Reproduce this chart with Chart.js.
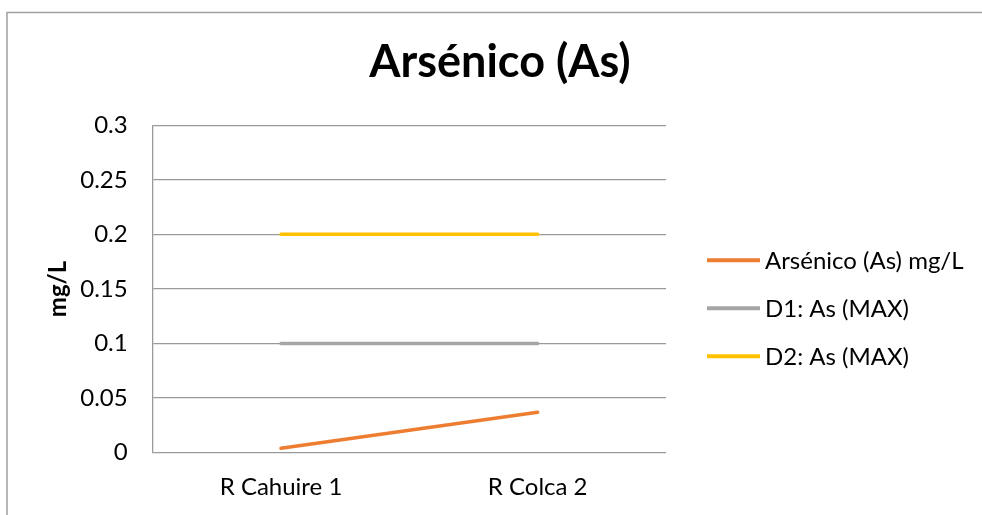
<!DOCTYPE html>
<html>
<head>
<meta charset="utf-8">
<title>Arsénico (As)</title>
<script src="https://cdn.jsdelivr.net/npm/chart.js@4/dist/chart.umd.min.js"></script>
<style>
  html, body { margin: 0; padding: 0; background: #ffffff; }
  #wrap { width: 982px; height: 515px; }
</style>
</head>
<body>
<div id="wrap"><canvas id="chart" width="982" height="515"></canvas></div>
<script>
// Sampling points
const categories = ['R Cahuire 1', 'R Colca 2'];

// Measured arsenic concentration (mg/L)
const arsenico = [0.004, 0.037];

// Regulatory limits
const d1Max = [0.1, 0.1];
const d2Max = [0.2, 0.2];

// Value-axis tick marks
const yTicks = [0, 0.05, 0.1, 0.15, 0.2, 0.25, 0.3];
const yTickLabels = ['0', '0.05', '0.1', '0.15', '0.2', '0.25', '0.3'];

const chartTitle = 'Arsénico (As)';
const seriesNames = ['Arsénico (As) mg/L', 'D1: As (MAX)', 'D2: As (MAX)'];
const seriesColors = ['#ED7D31', '#A5A5A5', '#FFC000'];

const FONT = 'Lato, "Open Sans", sans-serif';
const GRID = '#9a9a9a';

// Frame around the chart object
const framePlugin = {
  id: 'frame',
  beforeDraw(chart) {
    const ctx = chart.ctx;
    ctx.save();
    ctx.fillStyle = '#ffffff';
    ctx.fillRect(0, 0, chart.width, chart.height);
    ctx.strokeStyle = '#a0a0a0';
    ctx.lineWidth = 1.5;
    ctx.beginPath();
    ctx.moveTo(7, chart.height);
    ctx.lineTo(7, 12.5);
    ctx.lineTo(chart.width, 12.5);
    ctx.stroke();
    ctx.restore();
  }
};

// Title centred over the whole chart object (plot + legend)
const centredTitle = {
  id: 'centredTitle',
  afterDraw(chart) {
    const ctx = chart.ctx;
    ctx.save();
    ctx.font = 'bold 45px ' + FONT;
    ctx.fillStyle = '#000000';
    ctx.textAlign = 'center';
    ctx.textBaseline = 'middle';
    ctx.fillText(chartTitle, 500, 62);
    ctx.restore();
  }
};

// Legend on the right: short line sample followed by the series name
const sideLegend = {
  id: 'sideLegend',
  afterDraw(chart) {
    const ctx = chart.ctx;
    const area = chart.chartArea;
    const x0 = area.right + 41;
    const x1 = x0 + 53;
    ctx.save();
    ctx.font = '24px ' + FONT;
    ctx.textBaseline = 'middle';
    ctx.textAlign = 'left';
    chart.data.datasets.forEach((ds, i) => {
      const y = area.top + 135 + i * 48;
      ctx.strokeStyle = ds.borderColor;
      ctx.lineWidth = 4;
      ctx.beginPath();
      ctx.moveTo(x0, y);
      ctx.lineTo(x1, y);
      ctx.stroke();
      ctx.fillStyle = '#000000';
      ctx.fillText(ds.label, x1 + 5, y + 1);
    });
    ctx.restore();
  }
};

const datasets = [arsenico, d1Max, d2Max].map((values, i) => ({
  label: seriesNames[i],
  data: values,
  borderColor: seriesColors[i],
  backgroundColor: seriesColors[i],
  borderWidth: 3.5,
  pointRadius: 0,
  pointHoverRadius: 0,
  tension: 0,
  borderCapStyle: 'round'
}));

new Chart(document.getElementById('chart'), {
  type: 'line',
  data: { labels: categories, datasets },
  plugins: [framePlugin, centredTitle, sideLegend],
  options: {
    responsive: false,
    animation: false,
    layout: { padding: { top: 125.2, right: 316, bottom: 0, left: 0 } },
    plugins: {
      legend: { display: false },
      tooltip: { enabled: false },
      title: { display: false }
    },
    scales: {
      x: {
        offset: true,
        grid: { display: false, drawTicks: false },
        border: { display: false },
        ticks: {
          color: '#000000',
          font: { family: FONT, size: 24 },
          padding: 20,
          maxRotation: 0
        },
        afterFit(scale) { scale.height = 62.3; }
      },
      y: {
        min: 0,
        max: 0.3,
        grid: { color: GRID, lineWidth: 1.3, drawTicks: false },
        border: { display: true, color: GRID, width: 1.3 },
        afterBuildTicks(scale) {
          scale.ticks = yTicks.map(v => ({ value: v }));
        },
        ticks: {
          color: '#000000',
          font: { family: FONT, size: 24 },
          padding: 25,
          callback(value) {
            const idx = yTicks.indexOf(value);
            return idx >= 0 ? yTickLabels[idx] : '';
          }
        },
        title: {
          display: true,
          text: 'mg/L',
          color: '#000000',
          font: { family: FONT, size: 24, weight: 'bold', lineHeight: 1.2 },
          padding: { top: 44, bottom: 0 }
        },
        afterFit(scale) { scale.width = 152.7; }
      }
    }
  }
});
</script>
</body>
</html>
